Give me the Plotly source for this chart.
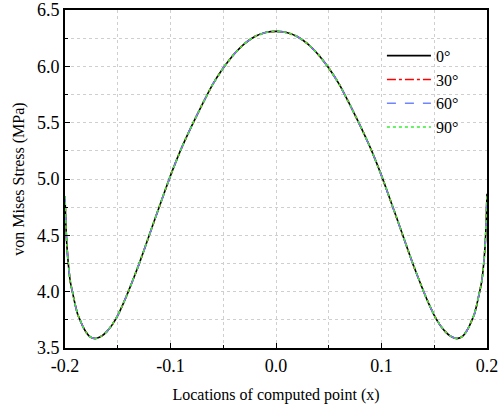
import plotly.graph_objects as go

# Locations of computed point (x)
x_loc = [-0.2, -0.1992, -0.1983, -0.1969, -0.195, -0.193, -0.19, -0.188, -0.1858, -0.183,
         -0.18, -0.177, -0.1745, -0.1722, -0.17, -0.165, -0.16, -0.155, -0.15, -0.145,
         -0.14, -0.13, -0.12, -0.11, -0.1, -0.09, -0.08, -0.07, -0.06, -0.05, -0.04,
         -0.03, -0.02, -0.01, 0.0,
         0.01, 0.02, 0.03, 0.04, 0.05, 0.06, 0.07, 0.08, 0.09, 0.1, 0.11, 0.12, 0.13,
         0.14, 0.145, 0.15, 0.155, 0.16, 0.165, 0.17, 0.1722, 0.1745, 0.177, 0.18,
         0.183, 0.1858, 0.188, 0.19, 0.193, 0.195, 0.1969, 0.1983, 0.1992, 0.2]

# von Mises stress (MPa) for each orientation (the four curves coincide)
stress_0 = [4.85, 4.60, 4.42, 4.25, 4.09, 4.0, 3.87, 3.80, 3.75, 3.69,
            3.64, 3.605, 3.59, 3.585, 3.587, 3.607, 3.65, 3.71, 3.79, 3.89,
            4.0, 4.24, 4.505, 4.77, 5.03, 5.265, 5.47, 5.66, 5.84, 5.985, 6.105,
            6.20, 6.265, 6.30, 6.31,
            6.30, 6.265, 6.20, 6.105, 5.985, 5.84, 5.66, 5.47, 5.265, 5.03, 4.77, 4.505, 4.24,
            4.0, 3.89, 3.79, 3.71, 3.65, 3.607, 3.587, 3.585, 3.59, 3.605, 3.64,
            3.69, 3.75, 3.80, 3.87, 4.0, 4.09, 4.25, 4.42, 4.61, 4.87]
stress_30 = list(stress_0)
stress_60 = list(stress_0)
stress_90 = list(stress_0)

series_names = ["0°", "30°", "60°", "90°"]
series_values = [stress_0, stress_30, stress_60, stress_90]
series_colors = ["#000000", "#ff0000", "#6f86ff", "#33ee33"]
series_dash = ["solid", "dashdot", "dash", "dot"]

x_tickvals = [-0.2, -0.1, 0.0, 0.1, 0.2]
x_ticktext = ["-0.2", "-0.1", "0.0", "0.1", "0.2"]
y_tickvals = [3.5, 4.0, 4.5, 5.0, 5.5, 6.0, 6.5]
y_ticktext = ["3.5", "4.0", "4.5", "5.0", "5.5", "6.0", "6.5"]

fig = go.Figure()
for name, ys, col, dash in zip(series_names, series_values, series_colors, series_dash):
    fig.add_trace(go.Scatter(x=x_loc, y=ys, name=name, mode="lines",
                             line=dict(color=col, dash=dash, width=1.6,
                                       shape="spline", smoothing=0.5)))

font_family = "Liberation Serif"
grid_col = "#cfcfcf"
fig.update_layout(
    width=498, height=405,
    margin=dict(l=65, r=11, t=10, b=57),
    paper_bgcolor="white", plot_bgcolor="white",
    font=dict(family=font_family, size=17, color="black"),
    showlegend=True,
    legend=dict(x=0.751, y=0.915, xanchor="left", yanchor="top",
                bgcolor="rgba(0,0,0,0)", borderwidth=0,
                font=dict(family=font_family, size=16),
                tracegroupgap=0, itemwidth=44),
)
fig.update_xaxes(
    range=[-0.2, 0.2], tickvals=x_tickvals, ticktext=x_ticktext,
    automargin=False, ticklabeloverflow="allow",
    showline=True, linecolor="black", linewidth=2, mirror=True,
    ticks="inside", ticklen=5, tickwidth=1.2, tickcolor="black",
    showgrid=True, gridcolor=grid_col, griddash="dot", gridwidth=1,
    zeroline=False,
    minor=dict(dtick=0.05, ticks="inside", ticklen=3, tickcolor="black",
               showgrid=True, gridcolor=grid_col, griddash="dot", gridwidth=1),
    title=dict(text="Locations of computed point (x)",
               font=dict(family=font_family, size=16), standoff=14),
    tickfont=dict(family=font_family, size=18),
)
fig.update_yaxes(
    range=[3.5, 6.5], tickvals=y_tickvals, ticktext=y_ticktext,
    automargin=False, ticklabeloverflow="allow",
    showline=True, linecolor="black", linewidth=2, mirror=True,
    ticks="inside", ticklen=5, tickwidth=1.2, tickcolor="black",
    showgrid=True, gridcolor=grid_col, griddash="dot", gridwidth=1,
    zeroline=False,
    minor=dict(dtick=0.25, ticks="inside", ticklen=3, tickcolor="black",
               showgrid=True, gridcolor=grid_col, griddash="dot", gridwidth=1),
    title=dict(text="von Mises Stress (MPa)",
               font=dict(family=font_family, size=16), standoff=8),
    tickfont=dict(family=font_family, size=18),
)

fig.write_html("out.html", config={"displayModeBar": False},
               post_script="document.body.style.margin='0';document.body.style.padding='0';")
